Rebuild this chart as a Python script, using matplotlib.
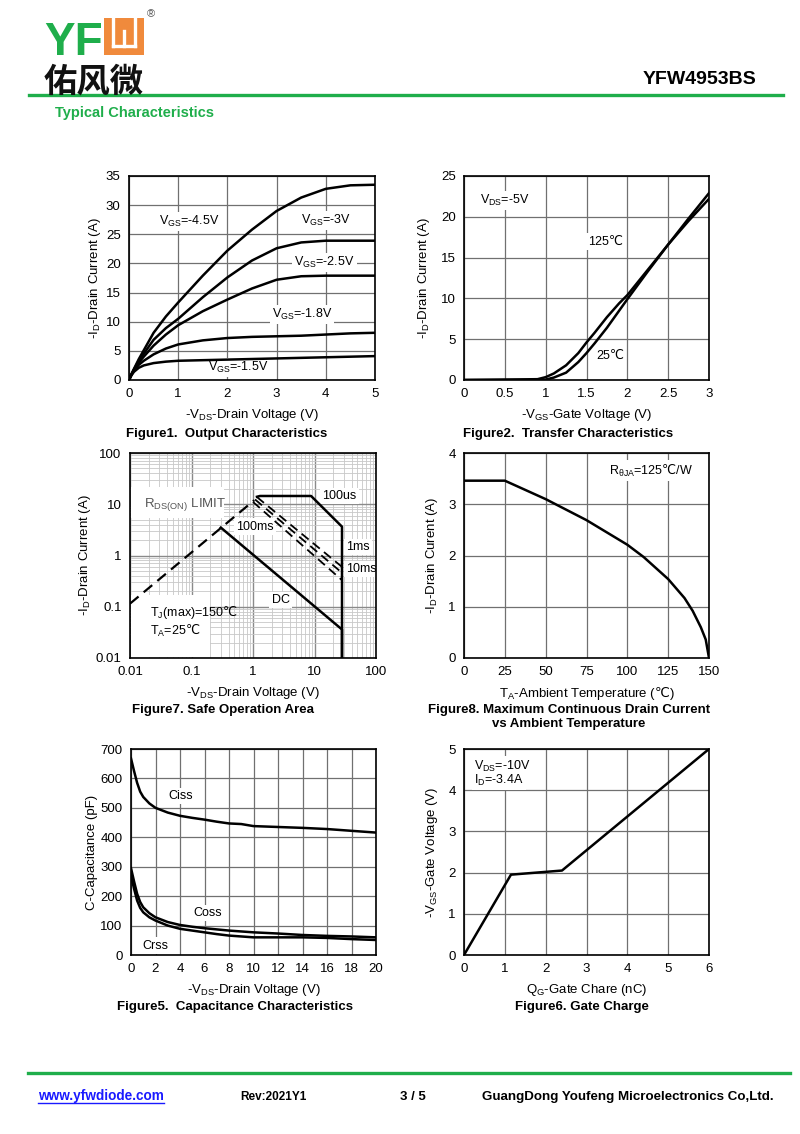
import numpy as np
import matplotlib
matplotlib.use("Agg")
import matplotlib.pyplot as plt
from matplotlib.patches import Rectangle
from matplotlib.lines import Line2D

plt.rcParams['font.family'] = ['Liberation Sans', 'DejaVu Sans']
plt.rcParams['mathtext.default'] = 'regular'
plt.rcParams['font.size'] = 9.5

W, H = 800, 1134
GREEN = '#1fae4b'
ORANGE = '#f08a3c'
GRID = '#707070'
DEG = r'$\mathrm{℃}$'

# ---- Figure1 output characteristics ----
vds1 = [0, 0.05, 0.1, 0.2, 0.3, 0.5, 0.75, 1, 1.5, 2, 2.5, 3, 3.5, 4, 4.5, 5]
id_45 = [0, 1.0, 1.9, 3.6, 5.1, 8.1, 10.9, 13.3, 17.9, 22.2, 25.8, 29.0, 31.3, 32.8, 33.4, 33.5]
id_30 = [0, 1.0, 1.8, 3.3, 4.5, 6.9, 8.9, 10.5, 14.2, 17.6, 20.5, 22.6, 23.6, 23.9, 23.9, 23.9]
id_25 = [0, 0.9, 1.7, 3.0, 4.0, 5.9, 7.8, 9.4, 11.8, 13.8, 15.7, 17.2, 17.8, 17.9, 17.9, 17.9]
id_18 = [0, 0.9, 1.6, 2.6, 3.3, 4.4, 5.4, 6.1, 6.8, 7.2, 7.4, 7.5, 7.6, 7.8, 8.0, 8.1]
id_15 = [0, 0.8, 1.4, 2.1, 2.5, 2.9, 3.15, 3.3, 3.4, 3.5, 3.6, 3.7, 3.8, 3.9, 4.0, 4.1]

# ---- Figure2 transfer ----
vgs2 = [0, 0.9, 1.0, 1.1, 1.25, 1.4, 1.5, 1.6, 1.75, 1.9, 2.0, 2.25, 2.5, 2.75, 3.0]
id_t25 = [0, 0, 0.05, 0.3, 0.9, 2.2, 3.3, 4.5, 6.4, 8.5, 9.9, 13.3, 16.6, 19.8, 22.9]
id_t125 = [0, 0.1, 0.35, 0.8, 1.8, 3.3, 4.6, 5.8, 7.7, 9.4, 10.4, 13.5, 16.6, 19.5, 22.2]

# ---- Figure7 SOA ----
rds_v = [0.01, 1.05]
rds_i = [0.115, 12.0]
ms1_v, ms1_i = [1.16, 28], [13.8, 0.6]
ms10_v, ms10_i = [1.08, 28], [12.4, 0.46]
ms100_v, ms100_i = [1.0, 28], [11.1, 0.33]
us100_v = [1.16, 1.3, 8.8, 28, 28]
us100_i = [14.0, 14.5, 14.5, 3.65, 0.01]
dc_v = [0.3, 28, 28]
dc_i = [3.5, 0.036, 0.01]

# ---- Figure8 derating ----
ta = [0, 25, 50, 75, 100, 110, 125, 135, 140, 145, 148, 150]
id_max = [3.46, 3.46, 3.1, 2.69, 2.21, 1.97, 1.54, 1.17, 0.92, 0.6, 0.36, 0]

# ---- Figure5 capacitance ----
vds5 = [0, 0.25, 0.5, 0.75, 1, 1.5, 2, 3, 4, 5, 6, 7, 8, 9, 10, 12, 14, 16, 18, 20]
ciss = [668, 625, 585, 555, 537, 515, 500, 484, 473, 466, 460, 453, 447, 445, 438, 435, 432, 428, 422, 416]
coss = [295, 250, 208, 180, 162, 142, 128, 112, 102, 96, 91, 87, 83, 80, 77, 73, 68, 65, 63, 60]
crss = [270, 225, 185, 160, 145, 128, 117, 100, 89, 83, 77, 71, 66, 63, 60, 60, 60, 58, 54, 51]

# ---- Figure6 gate charge ----
qg = [0, 1.15, 2.4, 6.0]
vgs6 = [0, 1.95, 2.05, 5.0]

fig = plt.figure(figsize=(8, 11.34), dpi=100)


def ax_at(l, t, r, b):
    return fig.add_axes([l / W, 1 - b / H, (r - l) / W, (b - t) / H])


def style(ax):
    ax.set_axisbelow(True)
    ax.grid(True, color=GRID, lw=0.9)
    ax.tick_params(length=0, pad=6, labelsize=9.5)
    for s in ax.spines.values():
        s.set_linewidth(1.2)


def ftext(x, y, s, **kw):
    fig.text(x / W, 1 - y / H, s, **kw)


lkw = dict(color='black', lw=1.8, zorder=3)
bx = dict(facecolor='white', edgecolor='none', pad=1.5)

# Figure1
ax1 = ax_at(129, 176, 375, 380)
for c in [id_45, id_30, id_25, id_18, id_15]:
    ax1.plot(vds1, c, **lkw)
ax1.set_xlim(0, 5)
ax1.set_ylim(0, 35)
ax1.set_xticks(range(0, 6))
ax1.set_yticks(range(0, 36, 5))
style(ax1)
ax1.set_xlabel('-V$_{DS}$-Drain Voltage (V)', labelpad=5)
ax1.set_ylabel('-I$_D$-Drain Current (A)', labelpad=2)
ax1.text(0.6, 26.6, 'V$_{GS}$=-4.5V', fontsize=9, bbox=bx, zorder=2)
ax1.text(3.5, 26.8, 'V$_{GS}$=-3V', fontsize=9, bbox=bx, zorder=2)
ax1.text(3.35, 19.6, 'V$_{GS}$=-2.5V', fontsize=9, bbox=bx, zorder=2)
ax1.text(2.9, 10.6, 'V$_{GS}$=-1.8V', fontsize=9, bbox=bx, zorder=2)
ax1.text(1.6, 1.5, 'V$_{GS}$=-1.5V', fontsize=9, bbox=bx, zorder=2)
ftext(227, 434, 'Figure1.  Output Characteristics', ha='center', va='center',
      fontweight='bold', fontsize=9.5)

# Figure2
ax2 = ax_at(464, 176, 709, 380)
ax2.plot(vgs2, id_t25, **lkw)
ax2.plot(vgs2, id_t125, **lkw)
ax2.set_xlim(0, 3)
ax2.set_ylim(0, 25)
ax2.set_xticks([0, 0.5, 1, 1.5, 2, 2.5, 3])
ax2.set_xticklabels(['0', '0.5', '1', '1.5', '2', '2.5', '3'])
ax2.set_yticks(range(0, 26, 5))
style(ax2)
ax2.set_xlabel('-V$_{GS}$-Gate Voltage (V)', labelpad=5)
ax2.set_ylabel('-I$_D$-Drain Current (A)', labelpad=6)
ax2.text(0.2, 21.6, 'V$_{DS}$=-5V', fontsize=9, bbox=bx, zorder=2)
ax2.text(1.52, 16.6, '125℃', fontsize=9, bbox=bx, zorder=2)
ax2.text(1.62, 2.6, '25℃', fontsize=9, bbox=bx, zorder=2)
ftext(568, 434, 'Figure2.  Transfer Characteristics', ha='center', va='center',
      fontweight='bold', fontsize=9.5)

# Figure7 SOA
ax7 = ax_at(130, 453, 376, 658)
ax7.set_xscale('log')
ax7.set_yscale('log')
ax7.set_xlim(0.01, 100)
ax7.set_ylim(0.01, 100)
ax7.set_axisbelow(True)
ax7.grid(True, which='minor', color='#c8c8c8', lw=0.6)
ax7.grid(True, which='major', color='#8a8a8a', lw=1.0)
ax7.tick_params(which='both', length=0, pad=6, labelsize=9.5)
for s in ax7.spines.values():
    s.set_linewidth(1.2)
ax7.set_xticks([0.01, 0.1, 1, 10, 100])
ax7.set_xticklabels(['0.01', '0.1', '1', '10', '100'])
ax7.set_yticks([0.01, 0.1, 1, 10, 100])
ax7.set_yticklabels(['0.01', '0.1', '1', '10', '100'])
dkw = dict(color='black', lw=1.3, ls=(0, (5, 3)), zorder=3)
ax7.plot(rds_v, rds_i, color='black', lw=1.6, ls=(0, (5, 3)), zorder=3)
ax7.plot(ms1_v, ms1_i, **dkw)
ax7.plot(ms10_v, ms10_i, **dkw)
ax7.plot(ms100_v, ms100_i, **dkw)
ax7.plot(us100_v, us100_i, **lkw)
ax7.plot(dc_v, dc_i, **lkw)
ax7.add_patch(Rectangle((0.0105, 5.5), 0.33, 16, facecolor='white', edgecolor='none', zorder=1.5))
ax7.add_patch(Rectangle((0.0105, 0.0105), 0.19, 0.16, facecolor='white', edgecolor='none', zorder=1.5))
ax7.text(0.017, 9.0, 'R$_{DS(ON)}$ LIMIT', fontsize=9.5, color='#555555', zorder=2)
ax7.text(0.53, 3.2, '100ms', fontsize=9, bbox=bx, zorder=2)
ax7.text(13.5, 12.6, '100us', fontsize=9, bbox=bx, zorder=2)
ax7.text(33, 1.3, '1ms', fontsize=9, bbox=bx, zorder=2)
ax7.text(33, 0.47, '10ms', fontsize=9, bbox=bx, zorder=2)
ax7.text(2.0, 0.12, 'DC', fontsize=9, bbox=bx, zorder=2)
ax7.text(0.021, 0.065, 'T$_J$(max)=150' + DEG, fontsize=9, zorder=2)
ax7.text(0.021, 0.028, 'T$_A$=25' + DEG, fontsize=9, zorder=2)
ax7.set_xlabel('-V$_{DS}$-Drain Voltage (V)', labelpad=5)
ax7.set_ylabel('-I$_D$-Drain Current (A)', labelpad=2)
ftext(223, 710, 'Figure7. Safe Operation Area', ha='center', va='center',
      fontweight='bold', fontsize=9.5)

# Figure8
ax8 = ax_at(464, 453, 709, 658)
ax8.plot(ta, id_max, **lkw)
ax8.set_xlim(0, 150)
ax8.set_ylim(0, 4)
ax8.set_xticks(range(0, 151, 25))
ax8.set_yticks(range(0, 5))
style(ax8)
ax8.set_xlabel('T$_A$-Ambient Temperature (' + DEG + ')', labelpad=5)
ax8.set_ylabel('-I$_D$-Drain Curent (A)', labelpad=6)
ax8.text(89, 3.58, 'R$_{θJA}$=125' + DEG + '/W', fontsize=9, bbox=bx, zorder=2)
ftext(569, 717, 'Figure8. Maximum Continuous Drain Current\nvs Ambient Temperature',
      ha='center', va='center', multialignment='center', fontweight='bold',
      fontsize=9.5, linespacing=1.25)

# Figure5
ax5 = ax_at(131, 749, 376, 955)
ax5.plot(vds5, ciss, **lkw)
ax5.plot(vds5, coss, **lkw)
ax5.plot(vds5, crss, **lkw)
ax5.set_xlim(0, 20)
ax5.set_ylim(0, 700)
ax5.set_xticks(range(0, 21, 2))
ax5.set_yticks(range(0, 701, 100))
style(ax5)
ax5.set_xlabel('-V$_{DS}$-Drain Voltage (V)', labelpad=5)
ax5.set_ylabel('C-Capacitance (pF)', labelpad=2)
ax5.text(3.05, 530, 'Ciss', fontsize=9, bbox=bx, zorder=2)
ax5.text(5.1, 132, 'Coss', fontsize=9, bbox=bx, zorder=2)
ax5.text(0.9, 22, 'Crss', fontsize=9, bbox=bx, zorder=2)
ftext(235, 1007, 'Figure5.  Capacitance Characteristics', ha='center', va='center',
      fontweight='bold', fontsize=9.5)

# Figure6
ax6 = ax_at(464, 749, 709, 955)
ax6.plot(qg, vgs6, **lkw)
ax6.set_xlim(0, 6)
ax6.set_ylim(0, 5)
ax6.set_xticks(range(0, 7))
ax6.set_yticks(range(0, 6))
style(ax6)
ax6.set_xlabel('Q$_G$-Gate Chare (nC)', labelpad=5)
ax6.set_ylabel('-V$_{GS}$-Gate Voltage (V)', labelpad=6)
ax6.text(0.25, 4.5, 'V$_{DS}$=-10V', fontsize=9, bbox=bx, zorder=2)
ax6.text(0.25, 4.15, 'I$_D$=-3.4A', fontsize=9, bbox=bx, zorder=2)
ftext(582, 1007, 'Figure6. Gate Charge', ha='center', va='center',
      fontweight='bold', fontsize=9.5)

# ---- header ----
ftext(44, 55, 'YF', fontsize=33, fontweight='bold', color=GREEN, va='baseline')
fig.patches.append(Rectangle((104 / W, 1 - 55 / H), 40 / W, 37 / H,
                             transform=fig.transFigure, facecolor=ORANGE,
                             edgecolor='none'))
for (xa, ya, xb, yb) in [(113, 18, 113, 46), (135, 18, 135, 46),
                         (113, 46, 135, 46), (124, 31, 124, 46)]:
    fig.lines.append(Line2D([xa / W, xb / W], [1 - ya / H, 1 - yb / H],
                            transform=fig.transFigure, color='white', lw=2.4))
ftext(147, 14, '®', fontsize=8, color='#555555', va='center')
ftext(44, 92, '佑风微', fontsize=24, fontweight='bold', color='#111111',
      family=['Noto Sans CJK SC', 'DejaVu Sans'], va='baseline')
fig.lines.append(Line2D([29 / W, 783 / W], [1 - 94.5 / H, 1 - 94.5 / H],
                        transform=fig.transFigure, color=GREEN, lw=2.4))
ftext(700, 80, 'YFW4953BS', fontsize=14, fontweight='bold', ha='center', va='center')
ftext(55, 113, 'Typical Characteristics', fontsize=10.5, fontweight='bold',
      color=GREEN, va='center')

# ---- footer ----
fig.lines.append(Line2D([28 / W, 790 / W], [1 - 1073 / H, 1 - 1073 / H],
                        transform=fig.transFigure, color=GREEN, lw=2.4))
ftext(38, 1096, 'www.yfwdiode.com', fontsize=9.8, fontweight='bold', color='#1a1aff',
      va='center')
fig.lines.append(Line2D([38 / W, 164 / W], [1 - 1103 / H, 1 - 1103 / H],
                        transform=fig.transFigure, color='#1a1aff', lw=1))
ftext(240, 1097, 'Rev:2021Y1', fontsize=8.5, fontweight='bold', va='center')
ftext(400, 1097, '3 / 5', fontsize=9.5, fontweight='bold', va='center')
ftext(482, 1097, 'GuangDong Youfeng Microelectronics Co,Ltd.', fontsize=9.6,
      fontweight='bold', va='center')

fig.savefig('out.png', dpi=100)
